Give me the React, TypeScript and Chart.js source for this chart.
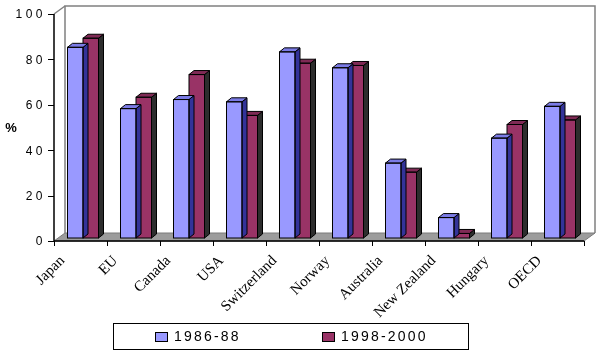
import React, { useEffect, useRef } from "react";
import { Chart, registerables } from "chart.js";

Chart.register(...registerables);

const categories = ["Japan", "EU", "Canada", "USA", "Switzerland", "Norway", "Australia", "New Zealand", "Hungary", "OECD"];
const series1986 = [84, 57, 61, 60, 82, 75, 33, 9, 44, 58];
const series1998 = [88, 62, 72, 54, 77, 76, 29, 2, 50, 52];
const seriesLabels = ["1986-88", "1998-2000"];
const yTicks = [0, 20, 40, 60, 80, 100];
const yTitle = "%";

const FRONT = ["#9999ff", "#993366"];
const TOP = ["#7b7be6", "#7f2a55"];
const SIDE = ["#333399", "#2d2d2d"];

const AX = { dx: -2.5, dy: 3 };
const DEPTH = { dx: 11, dy: -8 };
const BAR_DEPTH = { dx: 5, dy: -4 };

const threeD = {
  id: "threeD",
  beforeDatasetsDraw(chart: any) {
    const { ctx, chartArea, scales } = chart;
    const y = scales.y;
    const x = scales.x;
    const L = chartArea.left + AX.dx;
    const R = chartArea.right + AX.dx;
    const B = y.getPixelForValue(0) + AX.dy;
    const T = y.getPixelForValue(100) + AX.dy;
    ctx.save();
    ctx.strokeStyle = "#808080";
    ctx.lineWidth = 1.5;
    ctx.beginPath();
    ctx.moveTo(L + DEPTH.dx, B + DEPTH.dy);
    ctx.lineTo(L + DEPTH.dx, T + DEPTH.dy);
    ctx.lineTo(R + DEPTH.dx, T + DEPTH.dy);
    ctx.lineTo(R + DEPTH.dx, B + DEPTH.dy);
    ctx.stroke();
    ctx.beginPath();
    ctx.moveTo(L, T);
    ctx.lineTo(L + DEPTH.dx, T + DEPTH.dy);
    ctx.stroke();
    ctx.fillStyle = "#9c9c9c";
    ctx.beginPath();
    ctx.moveTo(L, B);
    ctx.lineTo(R, B);
    ctx.lineTo(R + DEPTH.dx, B + DEPTH.dy);
    ctx.lineTo(L + DEPTH.dx, B + DEPTH.dy);
    ctx.closePath();
    ctx.fill();
    ctx.strokeStyle = "#7a7a7a";
    ctx.lineWidth = 1;
    ctx.stroke();
    ctx.strokeStyle = "#000";
    ctx.lineWidth = 1.5;
    ctx.beginPath();
    ctx.moveTo(L, T);
    ctx.lineTo(L, B);
    ctx.lineTo(R, B);
    ctx.stroke();
    ctx.lineWidth = 1;
    ctx.beginPath();
    yTicks.forEach((v) => {
      const py = Math.round(y.getPixelForValue(v) + AX.dy) + 0.5;
      ctx.moveTo(L - 6, py);
      ctx.lineTo(L, py);
    });
    const n = categories.length;
    const cw = (R - L) / n;
    for (let i = 0; i <= n; i++) {
      const px = Math.round(L + i * cw) + 0.5;
      ctx.moveTo(px, B);
      ctx.lineTo(px, B + 5);
    }
    ctx.stroke();
    ctx.fillStyle = "#000";
    ctx.font = "12px 'Liberation Sans', Arial, sans-serif";
    (ctx as any).letterSpacing = "3.5px";
    ctx.textAlign = "right";
    ctx.textBaseline = "middle";
    yTicks.forEach((v) => {
      const py = y.getPixelForValue(v) + AX.dy + 1;
      ctx.fillText(String(v), L - 8, py);
    });
    (ctx as any).letterSpacing = "0px";
    ctx.font = "bold 13px 'Liberation Sans', Arial, sans-serif";
    ctx.textAlign = "center";
    ctx.fillText(yTitle, 11, (T + B) / 2 + 1);
    ctx.font = "15px 'Liberation Serif', 'Times New Roman', serif";
    ctx.textAlign = "right";
    ctx.textBaseline = "middle";
    categories.forEach((c, i) => {
      const px = x.getPixelForValue(i) - 20.5;
      const py = B + 17.5;
      ctx.save();
      ctx.translate(px, py);
      ctx.rotate(-Math.PI / 4);
      ctx.fillText(c, 0, 0);
      ctx.restore();
    });
    ctx.restore();
  },
  afterDatasetDraw(chart: any, args: any) {
    const { ctx } = chart;
    const di = args.index;
    const meta = args.meta;
    ctx.save();
    ctx.lineWidth = 1;
    ctx.strokeStyle = "#000";
    meta.data.forEach((el: any) => {
      const w = el.width;
      const l = el.x - w / 2;
      const r = el.x + w / 2;
      const t = el.y;
      const b = el.base;
      ctx.fillStyle = SIDE[di];
      ctx.beginPath();
      ctx.moveTo(r, t);
      ctx.lineTo(r + BAR_DEPTH.dx, t + BAR_DEPTH.dy);
      ctx.lineTo(r + BAR_DEPTH.dx, b + BAR_DEPTH.dy);
      ctx.lineTo(r, b);
      ctx.closePath();
      ctx.fill();
      ctx.stroke();
      ctx.fillStyle = TOP[di];
      ctx.beginPath();
      ctx.moveTo(l, t);
      ctx.lineTo(l + BAR_DEPTH.dx, t + BAR_DEPTH.dy);
      ctx.lineTo(r + BAR_DEPTH.dx, t + BAR_DEPTH.dy);
      ctx.lineTo(r, t);
      ctx.closePath();
      ctx.fill();
      ctx.stroke();
      ctx.strokeRect(l, t, w, b - t);
    });
    ctx.restore();
  },
  afterDraw(chart: any) {
    const { ctx } = chart;
    ctx.save();
    ctx.strokeStyle = "#000";
    ctx.lineWidth = 1;
    ctx.strokeRect(113.5, 323.5, 355, 26);
    const items = chart.data.datasets.map((d: any, i: number) => ({ label: d.label, color: FRONT[i] }));
    const xs = [155, 322];
    ctx.font = "14px 'Liberation Sans', Arial, sans-serif";
    (ctx as any).letterSpacing = "2.2px";
    ctx.textBaseline = "middle";
    ctx.textAlign = "left";
    items.forEach((it: any, i: number) => {
      ctx.fillStyle = it.color;
      ctx.fillRect(xs[i] + 0.5, 332.5, 12, 9);
      ctx.strokeRect(xs[i] + 0.5, 332.5, 12, 9);
      ctx.fillStyle = "#000";
      ctx.fillText(it.label, xs[i] + 19, 337.5);
    });
    ctx.restore();
  },
};

export default function App() {
  const ref = useRef<HTMLCanvasElement | null>(null);
  useEffect(() => {
    document.body.style.margin = "0";
    const chart = new Chart(ref.current as HTMLCanvasElement, {
      type: "bar",
      data: {
        labels: categories,
        datasets: [
          { label: seriesLabels[0], data: series1986, backgroundColor: FRONT[0], borderWidth: 0 },
          { label: seriesLabels[1], data: series1998, backgroundColor: FRONT[1], borderWidth: 0 },
        ],
      },
      options: {
        animation: false,
        responsive: true,
        maintainAspectRatio: false,
        layout: { padding: { left: 56.5, right: 12.5, top: 11, bottom: 0 } },
        plugins: { legend: { display: false }, tooltip: { enabled: false } },
        datasets: { bar: { categoryPercentage: 0.585, barPercentage: 1 } },
        scales: {
          x: {
            grid: { display: false, drawTicks: false },
            border: { display: false },
            ticks: { display: false },
            afterFit: (s: any) => {
              s.height = 115;
            },
          },
          y: { display: false, min: 0, max: 100 },
        },
      },
      plugins: [threeD],
    });
    return () => chart.destroy();
  }, []);
  return (
    <div style={{ position: "absolute", left: 0, top: 0, width: 599, height: 353 }}>
      <canvas ref={ref} />
    </div>
  );
}
